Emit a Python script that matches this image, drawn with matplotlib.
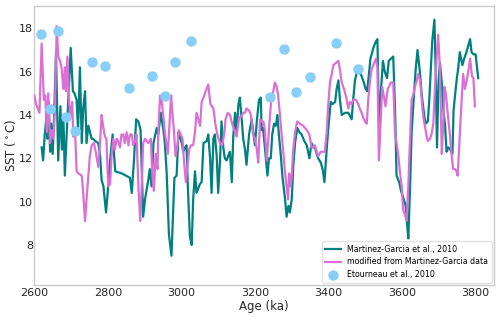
import numpy as np
import matplotlib
matplotlib.use('Agg')
import matplotlib.pyplot as plt

# Martinez-Garcia et al., 2010 (age ka, SST)
mg_age = [2620, 2624, 2628, 2633, 2636, 2639, 2643, 2646, 2650, 2654, 2659, 2665, 2671, 2675, 2679, 2683,
          2688, 2695, 2699, 2705, 2709, 2715, 2719, 2724, 2729, 2733, 2738, 2742, 2747, 2756, 2760, 2765,
          2774, 2779, 2783, 2788, 2795, 2799, 2806, 2813, 2820, 2838, 2860, 2865, 2871, 2877, 2883, 2889,
          2896, 2901, 2910, 2914, 2919, 2924, 2933, 2937, 2944, 2951, 2955, 2960, 2966, 2973, 2978, 2981,
          2987, 2992, 2996, 3001, 3005, 3010, 3014, 3017, 3023, 3028, 3032, 3037, 3041, 3050, 3055, 3060,
          3069, 3073, 3078, 3082, 3087, 3091, 3096, 3100, 3105, 3109, 3114, 3118, 3123, 3127, 3132, 3137,
          3141, 3146, 3150, 3155, 3159, 3164, 3168, 3173, 3177, 3184, 3191, 3200, 3205, 3211, 3216, 3218,
          3222, 3227, 3234, 3238, 3243, 3247, 3252, 3257, 3261, 3265, 3270, 3275, 3282, 3286, 3291, 3295,
          3300, 3304, 3309, 3315, 3321, 3327, 3334, 3341, 3348, 3354, 3359, 3363, 3368, 3372, 3379, 3384,
          3389, 3395, 3399, 3406, 3411, 3418, 3422, 3427, 3431, 3436, 3445, 3454, 3463, 3467, 3472, 3476,
          3484, 3490, 3496, 3501, 3505, 3510, 3514, 3522, 3529, 3533, 3537, 3542, 3548, 3553, 3559, 3564,
          3570, 3576, 3581, 3585, 3592, 3597, 3603, 3610, 3613, 3617, 3622, 3626, 3633, 3637, 3642, 3649,
          3653, 3660, 3664, 3670, 3674, 3679, 3682, 3688, 3691, 3695, 3699, 3703, 3708, 3712, 3717, 3721,
          3726, 3731, 3737, 3740, 3744, 3749, 3753, 3757, 3764, 3769, 3775, 3780, 3785, 3789, 3794, 3800,
          3807]
mg_sst = [12.5, 11.9, 13.0, 13.9, 12.9, 14.6, 12.3, 13.6, 12.2, 14.0, 16.9, 11.9, 14.4, 12.4, 14.0, 11.2,
          13.1, 15.6, 17.1, 15.1, 15.0, 14.7, 13.3, 16.2, 12.7, 14.3, 15.1, 12.7, 13.5, 12.9, 12.9, 12.8,
          12.7, 12.1, 11.0, 10.7, 9.5, 10.3, 11.9, 13.1, 11.4, 11.3, 11.1, 10.4, 11.9, 13.8, 13.7, 13.3,
          9.3, 10.1, 11.0, 11.5, 10.7, 12.7, 13.4, 13.1, 14.1, 13.3, 12.7, 11.3, 8.5, 7.5, 9.8, 11.1,
          11.2, 13.2, 13.0, 12.7, 12.3, 12.5, 12.6, 10.9, 8.4, 8.0, 10.1, 11.4, 10.4, 10.8, 10.9, 12.7,
          12.8, 13.1, 12.0, 10.4, 12.9, 13.1, 12.1, 10.4, 11.9, 13.7, 12.5, 12.0, 11.9, 12.1, 12.3, 10.9,
          13.0, 14.1, 13.1, 14.5, 14.8, 13.8, 12.9, 12.4, 11.7, 13.1, 13.8, 12.6, 13.7, 14.7, 14.8, 13.3,
          13.4, 12.5, 11.2, 12.0, 12.0, 13.1, 13.6, 13.5, 14.0, 13.1, 12.2, 11.1, 10.1, 9.3, 9.8, 9.5,
          10.1, 11.6, 12.7, 13.4, 13.2, 13.1, 12.8, 12.6, 12.0, 12.7, 12.5, 12.5, 12.2, 12.0, 11.8, 11.5,
          10.9, 12.4, 13.3, 14.6, 14.5, 14.6, 15.2, 15.6, 14.7, 14.0, 14.1, 14.1, 13.8, 14.7, 15.6, 15.9,
          16.0, 15.8, 15.5, 15.2, 15.1, 15.9, 16.6, 17.1, 17.4, 17.5, 13.7, 15.0, 16.5, 16.0, 15.7, 16.5,
          16.6, 16.7, 14.2, 11.2, 10.9, 10.5, 10.2, 9.8, 9.1, 8.3, 10.8, 13.2, 15.1, 16.1, 17.0, 15.9,
          15.0, 14.0, 13.6, 13.7, 14.7, 16.4, 17.4, 18.4, 16.3, 12.5, 15.5, 16.4, 15.5, 14.3, 13.5, 12.3,
          12.5, 12.4, 12.2, 14.2, 14.9, 15.7, 16.2, 16.9, 16.3, 16.6, 16.9, 17.2, 17.5, 16.9, 16.8, 16.8,
          15.7]

# modified from Martinez-Garcia data
mod_age = [2600, 2605, 2614, 2620, 2626, 2630, 2634, 2638, 2643, 2647, 2652, 2656, 2661, 2665, 2670, 2674,
           2679, 2683, 2686, 2690, 2695, 2699, 2703, 2706, 2711, 2715, 2720, 2729, 2733, 2738, 2742, 2747,
           2751, 2756, 2762, 2767, 2774, 2778, 2783, 2787, 2792, 2796, 2801, 2806, 2810, 2815, 2819, 2824,
           2828, 2833, 2837, 2842, 2846, 2851, 2856, 2860, 2865, 2869, 2874, 2878, 2883, 2888, 2892, 2896,
           2901, 2910, 2917, 2921, 2925, 2930, 2935, 2937, 2942, 2946, 2951, 2955, 2963, 2966, 2972, 2975,
           2980, 2984, 2989, 2993, 2998, 3003, 3006, 3012, 3016, 3021, 3026, 3032, 3037, 3041, 3046, 3051,
           3055, 3060, 3066, 3073, 3079, 3087, 3093, 3099, 3105, 3111, 3117, 3120, 3126, 3132, 3138, 3146,
           3150, 3157, 3162, 3168, 3173, 3177, 3184, 3189, 3195, 3200, 3205, 3209, 3214, 3218, 3223, 3227,
           3232, 3236, 3241, 3245, 3250, 3254, 3259, 3263, 3268, 3272, 3277, 3282, 3286, 3290, 3293, 3297,
           3300, 3304, 3309, 3315, 3322, 3331, 3341, 3348, 3354, 3359, 3363, 3368, 3372, 3379, 3384, 3390,
           3395, 3399, 3404, 3409, 3413, 3420, 3427, 3431, 3436, 3442, 3447, 3454, 3458, 3463, 3467, 3475,
           3481, 3485, 3490, 3494, 3499, 3504, 3508, 3513, 3517, 3522, 3529, 3533, 3537, 3541, 3546, 3551,
           3555, 3561, 3564, 3570, 3576, 3581, 3585, 3590, 3594, 3599, 3603, 3608, 3612, 3617, 3621, 3626,
           3630, 3635, 3640, 3644, 3649, 3653, 3657, 3662, 3666, 3670, 3676, 3680, 3685, 3689, 3694, 3698,
           3703, 3708, 3712, 3715, 3719, 3724, 3730, 3735, 3739, 3744, 3748, 3751, 3755, 3760, 3766, 3771,
           3776, 3780, 3785, 3790, 3794, 3798]
mod_sst = [14.9, 14.5, 14.1, 17.3, 14.7, 14.9, 13.2, 15.0, 12.7, 13.3, 12.9, 14.2, 18.1, 16.7, 16.5, 16.2,
           15.2, 16.2, 15.1, 16.7, 14.5, 13.9, 14.6, 13.0, 13.2, 11.4, 11.3, 11.2, 10.4, 9.1, 10.1, 11.2,
           12.1, 12.6, 12.7, 12.3, 11.6, 12.5, 14.0, 13.5, 13.0, 12.9, 10.7, 10.8, 12.1, 12.9, 12.4, 12.9,
           12.8, 12.5, 13.1, 13.1, 12.7, 13.2, 12.6, 13.1, 13.1, 12.6, 12.8, 13.1, 10.7, 9.1, 10.7, 12.7,
           12.9, 12.7, 12.9, 11.2, 10.5, 12.2, 11.5, 13.1, 14.9, 14.7, 13.9, 13.2, 12.2, 13.1, 14.9, 14.2,
           13.2, 12.1, 12.6, 13.3, 13.1, 12.9, 12.1, 10.9, 11.6, 12.4, 12.6, 12.6, 13.2, 14.1, 13.8, 13.5,
           14.6, 14.8, 15.1, 15.4, 14.5, 14.3, 13.5, 13.0, 12.7, 12.6, 13.2, 13.8, 14.1, 14.0, 13.6, 13.2,
           13.0, 13.9, 13.9, 14.1, 14.1, 14.3, 14.2, 14.0, 13.1, 12.9, 12.4, 11.8, 13.8, 13.7, 13.7, 13.3,
           11.9, 12.8, 14.0, 14.8, 15.1, 15.5, 15.3, 14.9, 14.0, 13.2, 12.3, 11.3, 10.7, 10.1, 11.3, 10.7,
           11.2, 12.4, 13.2, 13.7, 13.6, 13.5, 13.3, 13.1, 12.5, 12.5, 12.6, 12.3, 12.1, 12.3, 12.3, 12.3,
           13.2, 14.4, 15.5, 15.9, 16.3, 16.4, 16.5, 16.1, 15.5, 15.2, 14.9, 14.3, 14.6, 14.5, 14.7, 14.7,
           14.5, 14.3, 14.1, 13.9, 13.7, 13.6, 14.7, 15.6, 16.1, 16.3, 16.6, 16.2, 11.9, 13.4, 15.3, 14.8,
           14.4, 15.2, 15.3, 15.5, 15.5, 13.1, 12.7, 12.1, 11.4, 10.7, 9.6, 9.4, 9.1, 10.7, 12.6, 14.7,
           14.9, 15.3, 15.6, 15.9, 15.6, 14.8, 14.0, 13.5, 13.1, 12.8, 12.9, 13.1, 13.6, 15.1, 16.6, 17.7,
           16.2, 12.2, 13.5, 15.3, 15.0, 14.1, 13.1, 12.1, 11.5, 11.5, 11.4, 11.2, 12.4, 14.1, 15.9, 15.2,
           15.6, 16.0, 16.6, 15.8, 15.7, 14.4]

# Etourneau et al., 2010
et_age = [2618, 2643, 2665, 2686, 2710, 2758, 2793, 2857, 2920, 2955, 2982, 3025,
          3241, 3280, 3311, 3349, 3420, 3479]
et_sst = [17.72, 14.26, 17.88, 13.89, 13.26, 16.46, 16.26, 15.26, 15.78, 14.89, 16.46, 17.43,
          14.82, 17.03, 15.05, 15.74, 17.32, 16.14]

plt.rcParams['font.family'] = 'DejaVu Sans'
fig = plt.figure(figsize=(5, 3.17), dpi=100)
ax = fig.add_axes([0.0686, 0.101, 0.9194, 0.880])

ax.plot(mg_age, mg_sst, color='teal', lw=1.6, label='Martinez-Garcia et al., 2010', zorder=2)
ax.plot(mod_age, mod_sst, color='orchid', lw=1.6, label='modified from Martinez-Garcia data', zorder=3)
ax.scatter(et_age, et_sst, s=42, color='lightskyblue', label='Etourneau et al., 2010', zorder=4)

ax.set_xlim(2600, 3850)
ax.set_ylim(6.15, 19.03)
ax.set_xticks([2600, 2800, 3000, 3200, 3400, 3600, 3800])
ax.set_yticks([8, 10, 12, 14, 16, 18])
ax.tick_params(axis='both', length=0, labelsize=8, colors='#262626')
ax.tick_params(axis='x', pad=2.5)
ax.tick_params(axis='y', pad=1)
for s in ax.spines.values():
    s.set_color('#cccccc')
    s.set_linewidth(1)

ax.set_xlabel('Age (ka)', fontsize=8.5, color='#262626', labelpad=1)
ax.set_ylabel('SST ($^\\circ$C)', fontsize=8.5, color='#262626', labelpad=0.5)

leg = ax.legend(loc='lower right', fontsize=5.7, frameon=True, borderaxespad=0.3)
leg.get_frame().set_edgecolor('#dddddd')

fig.savefig('out.png', dpi=100)
